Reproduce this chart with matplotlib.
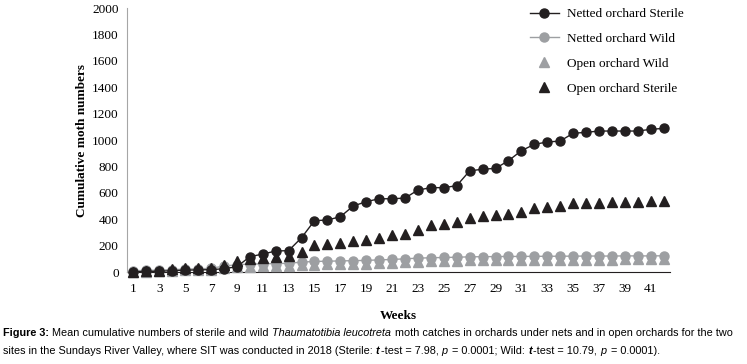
import numpy as np
import matplotlib
matplotlib.use("Agg")
import matplotlib.pyplot as plt

weeks = list(range(1, 43))
tick_weeks = list(range(1, 42, 2))
y_ticks = list(range(0, 2001, 200))

netted_sterile = [2, 4, 6, 10, 14, 16, 18, 25, 40, 116, 136, 159, 162, 260, 389, 394,
                  419, 500, 533, 555, 555, 560, 621, 639, 639, 654, 766, 779, 785, 843,
                  919, 967, 985, 992, 1051, 1058, 1068, 1068, 1068, 1068, 1081, 1088]
netted_wild = [10, 12, 14, 18, 22, 24, 28, 45, 55, 60, 62, 64, 66, 75, 80, 82, 84, 86,
               88, 92, 95, 100, 105, 108, 110, 112, 115, 116, 117, 118, 118, 119, 119,
               120, 120, 121, 121, 121, 122, 122, 122, 123]
open_wild = [0, 2, 4, 8, 12, 14, 16, 30, 35, 40, 42, 44, 46, 50, 55, 57, 59, 61, 63, 66,
             70, 74, 78, 82, 84, 86, 88, 89, 90, 90, 91, 92, 92, 93, 93, 94, 94, 94, 95,
             95, 95, 96]
open_sterile = [3, 5, 8, 20, 28, 28, 30, 53, 82, 95, 108, 115, 118, 154, 204, 212, 222,
                237, 242, 255, 280, 288, 318, 356, 364, 379, 410, 427, 432, 439, 457, 482,
                495, 500, 520, 520, 525, 530, 530, 530, 535, 535]

caption1 = [('Figure 3:', 'bold', 'normal'),
            (' Mean cumulative numbers of sterile and wild ', 'normal', 'normal'),
            ('Thaumatotibia leucotreta', 'normal', 'italic'),
            (' moth catches in orchards under nets and in open orchards for the two', 'normal', 'normal')]
caption2 = [('sites in the Sundays River Valley, where SIT was conducted in 2018 (Sterile: ', 'normal', 'normal'),
            ('t', 'bold', 'italic'), ('-test = 7.98, ', 'normal', 'normal'),
            ('p', 'normal', 'italic'), (' = 0.0001; Wild: ', 'normal', 'normal'),
            ('t', 'bold', 'italic'), ('-test = 10.79, ', 'normal', 'normal'),
            ('p', 'normal', 'italic'), (' = 0.0001).', 'normal', 'normal')]

dark = '#231f20'
grey = '#9d9fa2'

plt.rcParams['font.family'] = ['Liberation Serif', 'DejaVu Serif']

fig = plt.figure(figsize=(7.47, 3.64), dpi=100)
ax = fig.add_axes([0.170, 0.2527, 0.727, 0.7253])

ax.plot(weeks, open_wild, linestyle='none', marker='^', color=grey, markersize=7,
        label='Open orchard Wild', clip_on=False, zorder=2)
ax.plot(weeks, netted_wild, '-o', color=grey, markersize=6.5, linewidth=1,
        label='Netted orchard Wild', clip_on=False, zorder=3)
ax.plot(weeks, netted_sterile, '-o', color=dark, markersize=6.5, linewidth=1,
        label='Netted orchard Sterile', clip_on=False, zorder=4)
ax.plot(weeks, open_sterile, linestyle='none', marker='^', color=dark, markersize=7,
        label='Open orchard Sterile', clip_on=False, zorder=5)

ax.set_xlim(0.5, 42.5)
ax.set_ylim(0, 2000)
ax.set_xticks(tick_weeks)
ax.set_yticks(y_ticks)
ax.tick_params(axis='both', length=0, labelsize=9.5, colors='black')
ax.tick_params(axis='x', pad=8)
ax.tick_params(axis='y', pad=6)
for s in ['top', 'right']:
    ax.spines[s].set_visible(False)
ax.spines['left'].set_color('#a6a6a6')
ax.spines['bottom'].set_color(dark)
ax.spines['bottom'].set_zorder(1)

ax.set_ylabel('Cumulative moth numbers', fontsize=9.5, fontweight='bold', labelpad=3)
ax.set_xlabel('Weeks', fontsize=9.5, fontweight='bold', labelpad=11)

handles, labels = ax.get_legend_handles_labels()
order = [2, 1, 0, 3]
ax.legend([handles[i] for i in order], [labels[i] for i in order],
          loc='upper left', bbox_to_anchor=(0.72, 1.045), frameon=False,
          fontsize=9.5, handlelength=2.2, labelspacing=0.95, handletextpad=0.6)

# caption drawn piece by piece so bold/italic runs sit side by side
renderer = fig.canvas.get_renderer()
cap_font = ['Liberation Sans', 'DejaVu Sans']


def draw_line(parts, y_px, size):
    x = 3
    for txt, weight, style in parts:
        t = fig.text(x / 747, 1 - y_px / 364, txt, fontsize=size, family=cap_font,
                     fontweight=weight, fontstyle=style, va='center', ha='left')
        x += t.get_window_extent(renderer).width
        if style == 'italic':
            x += 1.5


draw_line(caption1, 332.5, 7.85)
draw_line(caption2, 350.5, 7.85)

fig.savefig('out.png', dpi=100)
